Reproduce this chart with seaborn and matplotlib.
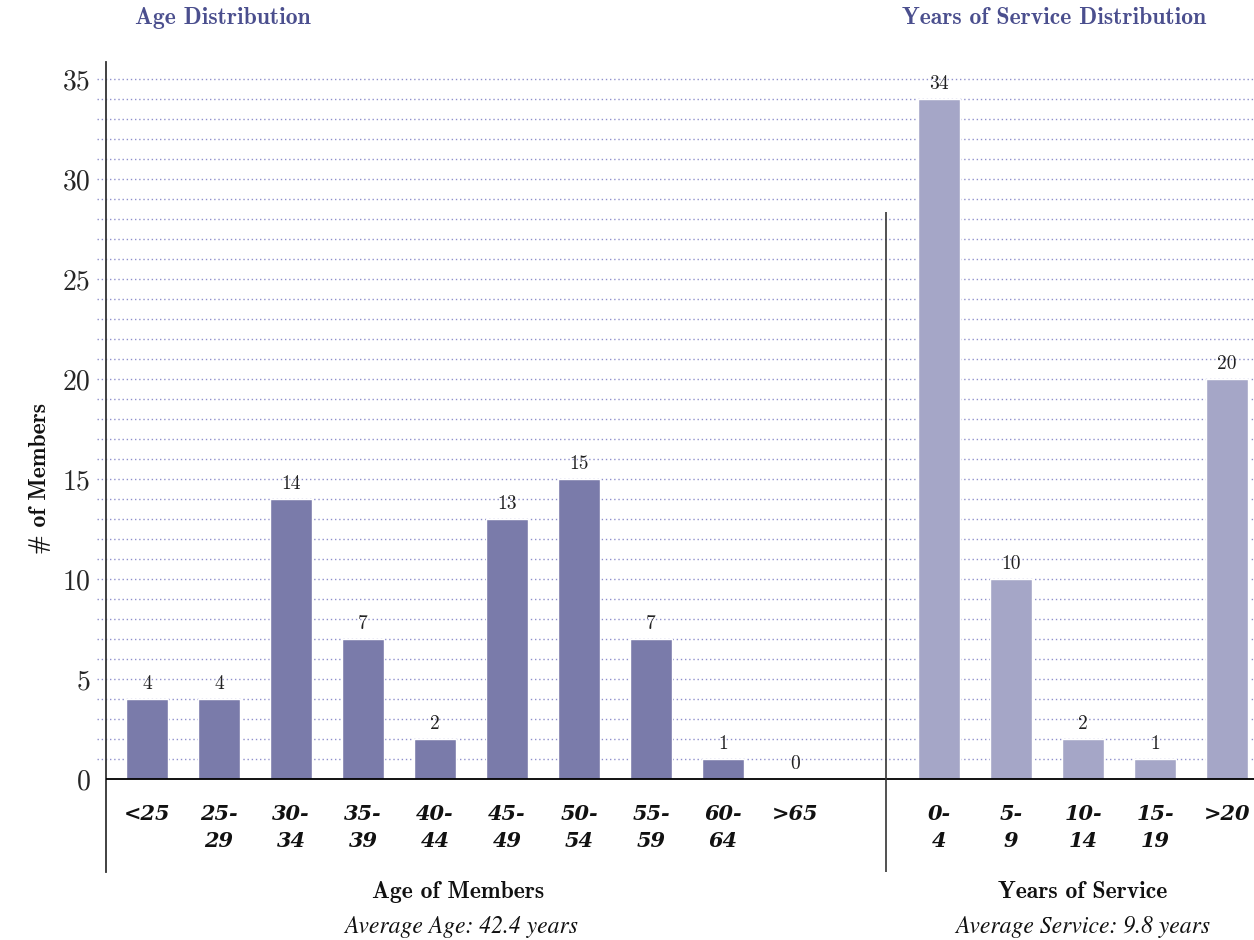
import matplotlib
matplotlib.use("Agg")
import matplotlib.pyplot as plt
import seaborn as sns
import pandas as pd

# ---- data ----
age_groups = ["<25", "25-\n29", "30-\n34", "35-\n39", "40-\n44",
              "45-\n49", "50-\n54", "55-\n59", "60-\n64", ">65"]
age_counts = [4, 4, 14, 7, 2, 13, 15, 7, 1, 0]

service_groups = ["0-\n4", "5-\n9", "10-\n14", "15-\n19", ">20"]
service_counts = [34, 10, 2, 1, 20]

avg_age = 42.4
avg_service = 9.8

AGE_COLOR = "#7A7BAA"
SERVICE_COLOR = "#A5A6C7"
TITLE_COLOR = "#4B4F8E"
GRID_COLOR = "#8F90CC"

df = pd.DataFrame({
    "group": age_groups + service_groups,
    "count": age_counts + service_counts,
    "panel": ["Age"] * len(age_groups) + ["Service"] * len(service_groups),
})
spacer = " "
order = age_groups + [spacer] + service_groups

sns.set_theme(style="white")
plt.rcParams["axes.formatter.use_mathtext"] = True

W, H = 1254, 940
fig = plt.figure(figsize=(W / 100, H / 100), dpi=100)
ax = fig.add_axes([106 / W, (H - 872) / H, 1 - 106 / W, (872 - 62) / H])

sns.barplot(data=df, x="group", y="count", hue="panel", order=order,
            palette={"Age": AGE_COLOR, "Service": SERVICE_COLOR},
            dodge=False, width=0.58, saturation=1, legend=False, ax=ax,
            zorder=2)

ax.set_xlim(-0.57, 15.375)
ax.set_ylim(-4.65, 35.85)

# dotted horizontal rules at each member count, poking out left of the axis
ax.hlines(range(1, 36), -9 / 1148, 1, transform=ax.get_yaxis_transform(),
          colors=GRID_COLOR, linestyles=(0, (1, 2.0)), linewidth=1.0,
          zorder=0, clip_on=False)
ax.axhline(0, color="black", linewidth=1.3, zorder=3)

# separator between the two distributions
ax.vlines(10.27, -4.65, 28.35, colors="#333333", linewidth=1.2, zorder=3)

for side in ["top", "right", "bottom"]:
    ax.spines[side].set_visible(False)
ax.spines["left"].set_color("#333333")
ax.spines["left"].set_linewidth(1.3)

ax.set_yticks(range(0, 36, 5))
ax.set_yticklabels([str(v) for v in range(0, 36, 5)])
ax.tick_params(axis="y", length=0, pad=11, labelsize=20)
for t in ax.get_yticklabels():
    t.set_fontfamily("cmr10")
ax.set_xticks([])
ax.set_xlabel("")
ax.set_ylabel("")

# value labels on every bar
for cont in ax.containers:
    ax.bar_label(cont, fmt="%d", padding=4, fontsize=14,
                 fontfamily="cmr10", color="#222222")

# category labels under the baseline
for i, lab in enumerate(order):
    if lab == spacer:
        continue
    ax.text(i, -1.25, lab, ha="center", va="top", fontsize=15,
            fontfamily="DejaVu Serif", fontstyle="italic", fontweight="bold",
            linespacing=1.45, color="#111111")


def px(x, y):
    return x / W, 1 - y / H


fig.text(*px(223, 24), "Age Distribution", ha="center", va="baseline",
         fontsize=17, fontfamily="cmb10", color=TITLE_COLOR)
fig.text(*px(1054, 24), "Years of Service Distribution", ha="center",
         va="baseline", fontsize=17, fontfamily="cmb10", color=TITLE_COLOR)

fig.text(*px(40, 478), "# of Members", ha="center", va="center",
         rotation=90, fontsize=17, fontfamily="cmb10", color="#111111")

fig.text(*px(458, 898), "Age of Members", ha="center", va="baseline",
         fontsize=17, fontfamily="cmb10", color="#111111")
fig.text(*px(461, 933), f"Average Age: {avg_age} years", ha="center",
         va="baseline", fontsize=17, fontfamily="STIXGeneral",
         fontstyle="italic", color="#111111")
fig.text(*px(1083, 898), "Years of Service", ha="center", va="baseline",
         fontsize=17, fontfamily="cmb10", color="#111111")
fig.text(*px(1083, 933), f"Average Service: {avg_service} years",
         ha="center", va="baseline", fontsize=17, fontfamily="STIXGeneral",
         fontstyle="italic", color="#111111")

fig.savefig("out.png", dpi=100)
